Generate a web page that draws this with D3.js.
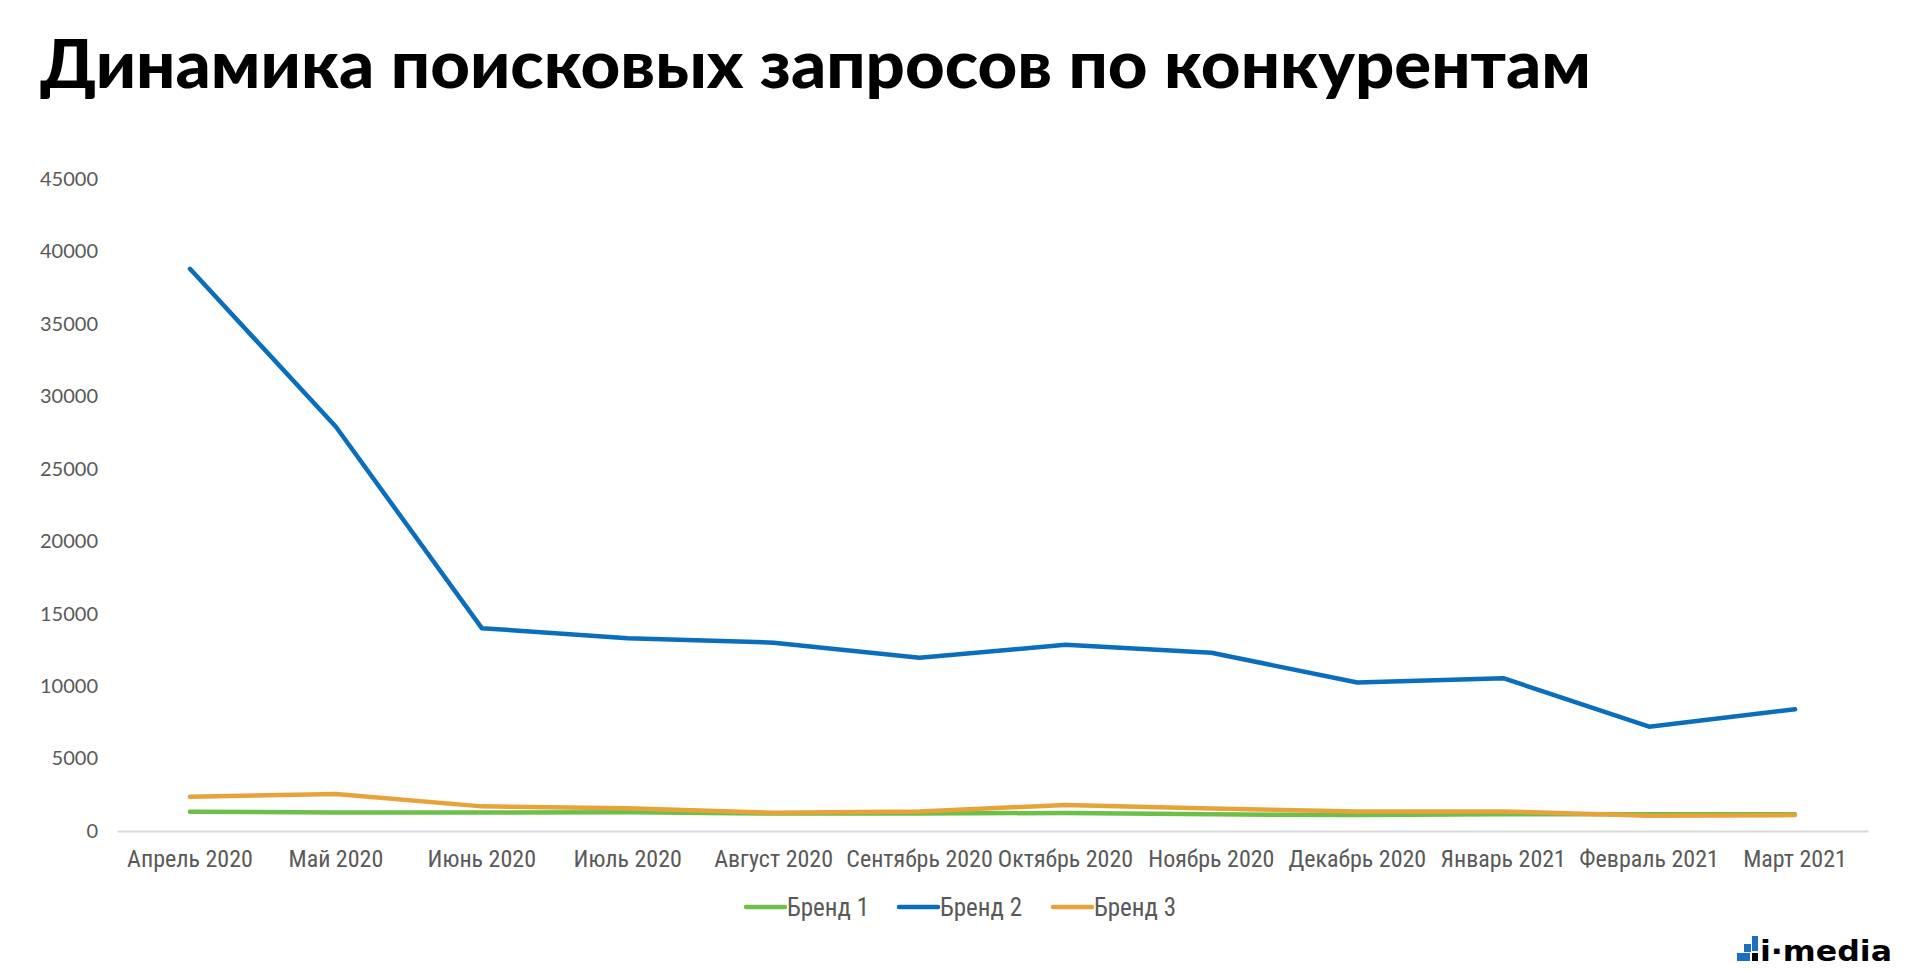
<!DOCTYPE html>
<html>
<head>
<meta charset="utf-8">
<script src="https://cdn.jsdelivr.net/npm/d3@7"></script>
<style>
  html, body { margin: 0; padding: 0; background: #fff; overflow: hidden; }
  svg { display: block; }
</style>
</head>
<body>
<div id="chart"></div>
<script>
// данные графика
const months = ["Апрель 2020", "Май 2020", "Июнь 2020", "Июль 2020", "Август 2020",
  "Сентябрь 2020", "Октябрь 2020", "Ноябрь 2020", "Декабрь 2020", "Январь 2021",
  "Февраль 2021", "Март 2021"];
const brand1 = [1330, 1270, 1280, 1300, 1200, 1200, 1250, 1150, 1100, 1150, 1150, 1150];
const brand2 = [38800, 27900, 14000, 13300, 13000, 11950, 12850, 12300, 10250, 10550, 7200, 8400];
const brand3 = [2370, 2550, 1700, 1570, 1260, 1350, 1800, 1550, 1350, 1350, 1050, 1100];
const seriesNames = ["Бренд 1", "Бренд 2", "Бренд 3"];
const yTicks = [0, 5000, 10000, 15000, 20000, 25000, 30000, 35000, 40000, 45000];

const colors = ["#6cc04a", "#0a6ebd", "#e8a23a"];
const series = [brand1, brand2, brand3];

const W = 1923, H = 969;
const plot = {left: 117, right: 1868, top: 179, bottom: 831};
const narrow = "'Liberation Sans Narrow', 'Roboto Condensed', sans-serif";

const svg = d3.select("#chart").append("svg")
    .attr("width", W)
    .attr("height", H);

// заголовок
svg.append("text")
    .attr("x", 40)
    .attr("y", 88)
    .attr("font-family", "Lato, 'DejaVu Sans', sans-serif")
    .attr("font-weight", 900)
    .attr("font-size", 66)
    .attr("textLength", 1551)
    .attr("lengthAdjust", "spacingAndGlyphs")
    .attr("fill", "#000")
    .text("Динамика поисковых запросов по конкурентам");

const x = d3.scaleBand()
    .domain(months)
    .range([plot.left, plot.right]);

const y = d3.scaleLinear()
    .domain([0, 45000])
    .range([plot.bottom, plot.top]);

// ось Y (только подписи)
const yAxis = svg.append("g")
    .attr("transform", `translate(${plot.left},0)`)
    .call(d3.axisLeft(y).tickValues(yTicks).tickSize(0).tickPadding(19).tickFormat(d3.format("d")));
yAxis.select(".domain").remove();
yAxis.selectAll("text")
    .attr("font-family", "Lato, sans-serif")
    .attr("font-size", 20)
    .attr("fill", "#595959");

// ось X
const xAxis = svg.append("g")
    .attr("transform", `translate(0,${plot.bottom})`)
    .call(d3.axisBottom(x).tickSize(0).tickPadding(19));
xAxis.select(".domain")
    .attr("stroke", "#d9d9d9")
    .attr("stroke-width", 2);
xAxis.selectAll("text")
    .attr("font-family", narrow)
    .attr("font-size", 24)
    .attr("fill", "#595959");

// линии
const line = d3.line()
    .x((d, i) => x(months[i]) + x.bandwidth() / 2)
    .y(d => y(d));

svg.append("g")
  .selectAll("path")
  .data(series)
  .join("path")
    .attr("fill", "none")
    .attr("stroke", (d, i) => colors[i])
    .attr("stroke-width", 4.5)
    .attr("stroke-linejoin", "round")
    .attr("stroke-linecap", "round")
    .attr("d", line);

// легенда
const legendX = [746, 899, 1053];
const legend = svg.append("g")
  .selectAll("g")
  .data(seriesNames)
  .join("g")
    .attr("transform", (d, i) => `translate(${legendX[i]},907)`);
legend.append("line")
    .attr("x1", 0).attr("x2", 39)
    .attr("stroke", (d, i) => colors[i])
    .attr("stroke-width", 4.5)
    .attr("stroke-linecap", "round");
legend.append("text")
    .attr("x", 41)
    .attr("dy", "0.35em")
    .attr("font-family", narrow)
    .attr("font-size", 25)
    .attr("fill", "#595959")
    .text(d => d);

// логотип i-media
const logo = svg.append("g").attr("transform", "translate(1737,936)");
logo.append("rect").attr("x", 0).attr("y", 17).attr("width", 13).attr("height", 8).attr("fill", "#1a6fc0");
logo.append("rect").attr("x", 7).attr("y", 8).attr("width", 7).attr("height", 8).attr("fill", "#1a6fc0");
logo.append("rect").attr("x", 15).attr("y", 17).attr("width", 6).attr("height", 8).attr("fill", "#000");
logo.append("rect").attr("x", 15).attr("y", 0).attr("width", 6).attr("height", 15).attr("fill", "#1a6fc0");
logo.append("text")
    .attr("x", 23)
    .attr("y", 25)
    .attr("font-family", "'DejaVu Sans', sans-serif")
    .attr("font-weight", "bold")
    .attr("font-size", 28)
    .attr("textLength", 132)
    .attr("lengthAdjust", "spacingAndGlyphs")
    .attr("fill", "#000")
    .text("i·media");
</script>
</body>
</html>
